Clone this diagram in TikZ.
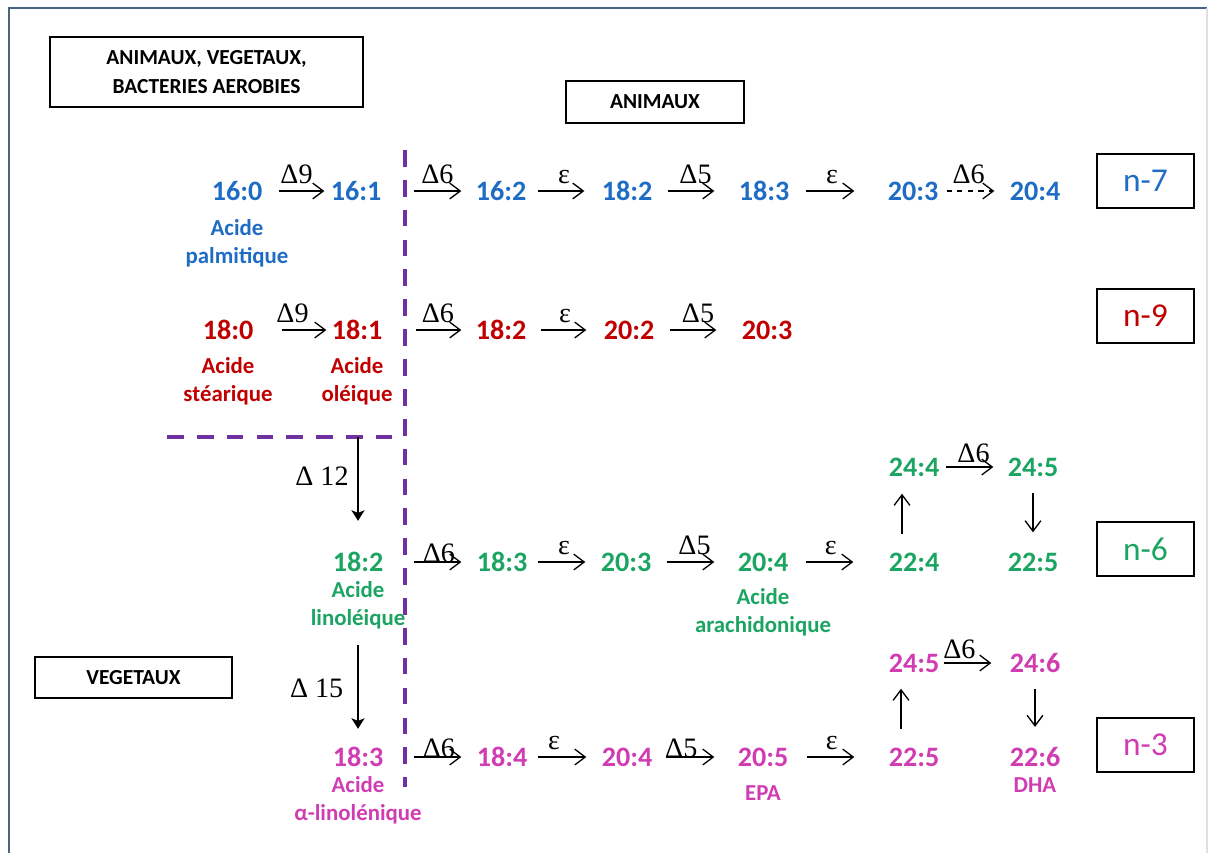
\documentclass[tikz,border=0pt]{standalone}
\usepackage{fontspec}
\setmainfont{Carlito}
\newfontfamily\enzfont{Liberation Serif}
\usetikzlibrary{positioning,arrows.meta}

\definecolor{bleu7}{HTML}{1F6CC4}
\definecolor{rouge9}{HTML}{C00000}
\definecolor{vert6}{HTML}{1BA462}
\definecolor{rose3}{HTML}{D03CB2}
\definecolor{trait}{HTML}{7030A0}
\definecolor{cadre}{HTML}{4A6480}

\tikzset{
  acid/.style={font=\fontsize{16}{19}\selectfont\bfseries, inner sep=1pt},
  nom/.style={font=\fontsize{13}{16}\selectfont\bfseries, inner sep=1pt, align=center},
  lettre/.style={font=\enzfont\fontsize{16}{18}\selectfont, inner sep=1pt},
  enz/.style={lettre, above=#1},
  enz/.default=3pt,
  enzg/.style={lettre, left=#1},
  grp/.style={
     draw,
     line width=1.1pt,
     font=\fontsize{12.2}{16.5}\selectfont\bfseries,
     align=center
  },
  serie/.style={
     draw,
     line width=1.1pt,
     minimum width=1.94cm,
     minimum height=1.08cm,
     font=\fontsize{19}{22}\selectfont
  },
  cut/.style 2 args={shorten <=#1*0.02cm, shorten >=#2*0.02cm},
  flp/.style={-{Stealth[length=6pt,width=7.5pt,inset=1.5pt]}},
  fil/.style={draw=trait, line width=2pt, dash pattern=on 9.5pt off 7.5pt}
}

\begin{document}
\begin{tikzpicture}[
  x=0.02cm, y=-0.02cm,
  >={Straight Barb[length=6pt,width=9pt]},
  line width=0.75pt
]
\useasboundingbox (0,0) rectangle (1212,853);

% frame
\draw[cadre, line width=1.4pt] (9,853) -- (9,8) -- (1207,8);
\draw[gray!25, line width=1pt] (1207,8) -- (1207,853);

% organism boxes
\node[grp, minimum width=6.26cm, minimum height=1.4cm] (tous) at (206.5,72) {ANIMAUX, VEGETAUX,\\BACTERIES AEROBIES};
\node[grp, minimum width=3.56cm, minimum height=0.84cm] (anim) at (655,102) {ANIMAUX};
\node[grp, minimum width=3.94cm, minimum height=0.82cm] (veg)  at (133.5,677.5) {VEGETAUX};

% series boxes
\node[serie, text=bleu7]  (w7) at (1145.5,181) {n-7};
\node[serie, text=rouge9] (w9) at (1145.5,316) {n-9};
\node[serie, text=vert6]  (w6) at (1145.5,549) {n-6};
\node[serie, text=rose3]  (w3) at (1145.5,745) {n-3};

% separators
\draw[fil] (405,150) -- (405,787);
\draw[fil] (167,437) -- (392,437);

% n-7
\node[acid, bleu7] (c160) at (237,191)  {16:0};
\node[acid, bleu7] (c161) at (356,191)  {16:1};
\node[acid, bleu7] (c162) at (501,191)  {16:2};
\node[acid, bleu7] (c182) at (627,191)  {18:2};
\node[acid, bleu7] (c183) at (764,191)  {18:3};
\node[acid, bleu7] (c203) at (913,191)  {20:3};
\node[acid, bleu7] (c204) at (1035,191) {20:4};
\node[nom, bleu7, below=8pt of c160] (palm) {Acide\\palmitique};

\draw[->, cut={14}{4}]  (c160) -- (c161) node[enz, midway] {Δ9};
\draw[->, cut={30}{12}] (c161) -- (c162) node[enz, pos=0.6] {Δ6};
\draw[->, cut={9}{15}]  (c162) -- (c182) node[enz, midway] {ε};
\draw[->, cut={13}{22}] (c182) -- (c183) node[enz, midway] {Δ5};
\draw[->, cut={14}{31}] (c183) -- (c203) node[enz, pos=0.43] {ε};
\draw[->, dashed, cut={6}{13}] (c203) -- (c204) node[enz, pos=0.42] {Δ6};

% n-9
\node[acid, rouge9] (o180) at (228,330) {18:0};
\node[acid, rouge9] (o181) at (357,330) {18:1};
\node[acid, rouge9] (o182) at (501,330) {18:2};
\node[acid, rouge9] (o202) at (629,330) {20:2};
\node[acid, rouge9] (o203) at (767,330) {20:3};
\node[nom, rouge9, below=7.5pt of o180] (stea) {Acide\\stéarique};
\node[nom, rouge9, below=7.5pt of o181] (olei) {Acide\\oléique};

\draw[->, cut={26}{3}]  (o180) -- (o181) node[enz, midway] {Δ9};
\draw[->, cut={31}{12}] (o181) -- (o182) node[enz, pos=0.6] {Δ6};
\draw[->, cut={12}{15}] (o182) -- (o202) node[enz, midway] {ε};
\draw[->, cut={13}{23}] (o202) -- (o203) node[enz, midway] {Δ5};

% n-6
\node[acid, vert6] (l182) at (358,562)  {18:2};
\node[acid, vert6] (l183) at (502,562)  {18:3};
\node[acid, vert6] (l203) at (626,562)  {20:3};
\node[acid, vert6] (l204) at (763,562)  {20:4};
\node[acid, vert6] (l224) at (914,562)  {22:4};
\node[acid, vert6] (l225) at (1033,562) {22:5};
\node[acid, vert6] (l244) at (914,467)  {24:4};
\node[acid, vert6] (l245) at (1033,467) {24:5};
\node[nom, vert6, below=2.5pt of l182] (lino) {Acide\\linoléique};
\node[nom, vert6, below=7pt of l204] (arac) {Acide\\arachidonique};

\coordinate (d12) at (358,437);
\draw[flp, cut={0}{29}] (d12) -- (l182.north) node[enzg=4pt, pos=0.35] {Δ 12};

\draw[->, cut={28}{13}] (l182) -- (l183) node[enz=-2pt, pos=0.6] {Δ6};
\draw[->, cut={8}{13}]  (l183) -- (l203) node[enz, midway] {ε};
\draw[->, cut={13}{21}] (l203) -- (l204) node[enz, midway] {Δ5};
\draw[->, cut={15}{33}] (l204) -- (l224) node[enz, pos=0.42] {ε};
\draw[->, cut={16}{15}] ([xshift=-0.24cm]l224.north) -- ([xshift=-0.24cm]l244.south);
\draw[->, cut={4}{12}]  (l244) -- (l245) node[enz=1pt, midway] {Δ6};
\draw[->, cut={14}{18}] (l245.south) -- (l225.north);

% n-3
\node[acid, rose3] (a183) at (358,757)  {18:3};
\node[acid, rose3] (a184) at (502,757)  {18:4};
\node[acid, rose3] (a204) at (627,757)  {20:4};
\node[acid, rose3] (a205) at (763,757)  {20:5};
\node[acid, rose3] (a225) at (914,757)  {22:5};
\node[acid, rose3] (a226) at (1035,757) {22:6};
\node[acid, rose3] (a245) at (914,663)  {24:5};
\node[acid, rose3] (a246) at (1035,663) {24:6};
\node[nom, rose3, below=2.5pt of a183] (alin) {Acide\\α-linolénique};
\node[nom, rose3, below=8pt of a205]   (epa)  {EPA};
\node[nom, rose3, below=3.5pt of a226] (dha)  {DHA};

\draw[flp, cut={14}{16}] (lino) -- (a183.north) node[enzg=7pt, midway] {Δ 15};

\draw[->, cut={28}{13}] (a183) -- (a184) node[enz=-2pt, pos=0.6] {Δ6};
\draw[->, cut={8}{13}]  (a184) -- (a204) node[enz, pos=0.35] {ε};
\draw[->, cut={11}{21}] (a204) -- (a205) node[enz=-2pt, pos=0.33] {Δ5};
\draw[->, cut={16}{32}] (a205) -- (a225) node[enz, pos=0.43] {ε};
\draw[->, cut={16}{14}] ([xshift=-0.26cm]a225.north) -- ([xshift=-0.26cm]a245.south);
\draw[->, cut={2}{16}]  (a245) -- (a246) node[enz=1pt, pos=0.27] {Δ6};
\draw[->, cut={14}{18}] (a246.south) -- (a226.north);

\end{tikzpicture}
\end{document}
